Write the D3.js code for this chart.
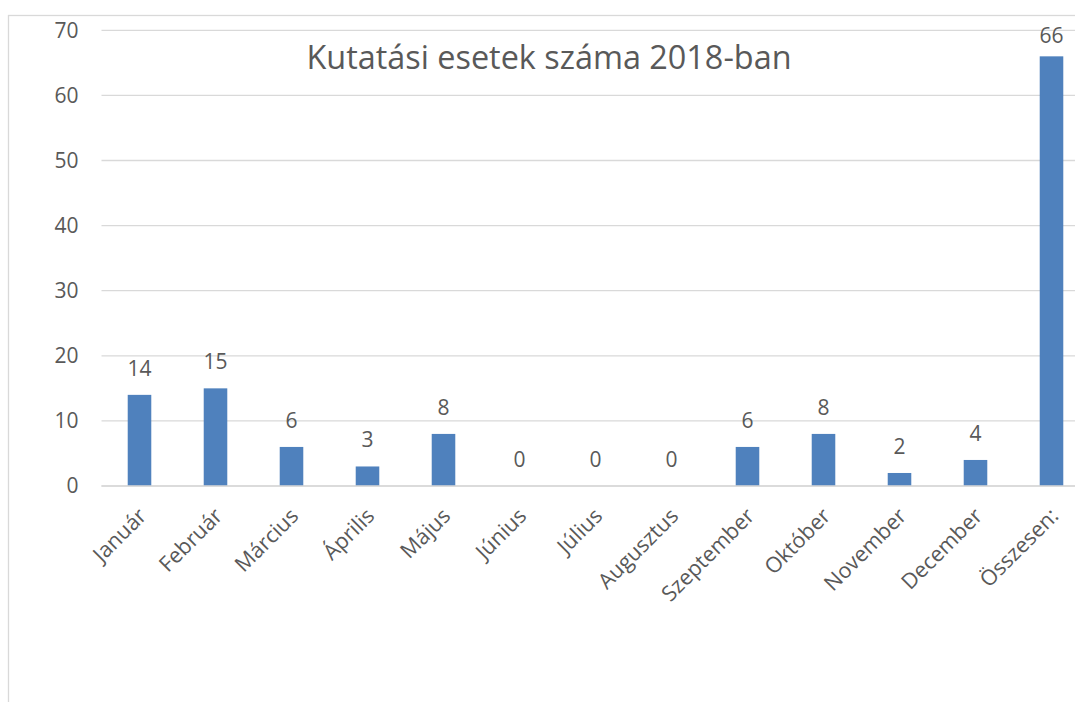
<!DOCTYPE html>
<html lang="hu">
<head>
<meta charset="utf-8">
<title>Kutatási esetek száma 2018-ban</title>
<script src="https://cdn.jsdelivr.net/npm/d3@7"></script>
<style>
  body { margin: 0; background: #fff; }
  text { font-family: "Open Sans", sans-serif; fill: #595959; }
</style>
</head>
<body>
<div id="chart"></div>
<script>
// chart data
const months = ["Január", "Február", "Március", "Április", "Május", "Június", "Július",
                "Augusztus", "Szeptember", "Október", "November", "December", "Összesen:"]
const cases = [14, 15, 6, 3, 8, 0, 0, 0, 6, 8, 2, 4, 66]
const yTicks = [0, 10, 20, 30, 40, 50, 60, 70]
const chartTitle = "Kutatási esetek száma 2018-ban"

let width = 1075
let height = 702
let plotLeft = 101.5
let band = 76
let plotTop = 30.3
let plotBottom = 486

let svg = d3.select("#chart").append("svg").attr("width", width).attr("height", height)

// chart area border
svg.append("rect")
   .attr("x", 8.5).attr("y", 15.5)
   .attr("width", 1200).attr("height", 800)
   .attr("fill", "none").attr("stroke", "#d9d9d9").attr("stroke-width", 1.3)

let xScale = d3.scaleBand().domain(months)
               .range([plotLeft, plotLeft + band * months.length])
               .paddingInner(0.69).paddingOuter(0.345)

let yScale = d3.scaleLinear().domain([0, 70]).range([plotBottom, plotTop])

// gridlines
svg.append("g")
   .selectAll("line")
   .data(yTicks)
   .enter()
   .append("line")
    .attr("x1", plotLeft).attr("x2", width + 20)
    .attr("y1", (d) => yScale(d)).attr("y2", (d) => yScale(d))
    .attr("stroke", "#d9d9d9").attr("stroke-width", 1.3)

let yAxis = d3.axisLeft(yScale).tickValues(yTicks).tickSize(0).tickPadding(23)
let yG = svg.append("g").attr("transform", "translate(" + plotLeft + ",0)").call(yAxis)
yG.select(".domain").remove()
yG.selectAll("text").style("font-size", "21px").attr("fill", "#595959").style("font-family", "Open Sans, sans-serif")

svg.append("g")
   .selectAll("rect")
   .data(cases)
   .enter()
   .append("rect")
    .attr("x", (d, i) => xScale(months[i]))
    .attr("y", (d) => yScale(d))
    .attr("width", xScale.bandwidth())
    .attr("height", (d) => plotBottom - yScale(d))
    .attr("fill", "#4f81bd")

// data labels (kept inside the plot area like excel does)
svg.append("g")
   .selectAll("text")
   .data(cases)
   .enter()
   .append("text")
    .attr("x", (d, i) => xScale(months[i]) + xScale.bandwidth() / 2)
    .attr("y", (d) => Math.max(yScale(d) - 19, plotTop + 12.5))
    .attr("text-anchor", "middle")
    .style("font-size", "21px")
    .text((d) => d)

// category labels
let xAxis = d3.axisBottom(xScale).tickSize(0).tickPadding(0)
let xG = svg.append("g").attr("transform", "translate(0," + plotBottom + ")").call(xAxis)
xG.select(".domain").remove()
xG.selectAll("text")
  .style("font-size", "21.5px").style("font-family", "Open Sans, sans-serif").attr("fill", "#595959")
  .attr("text-anchor", "end")
  .attr("dy", "0.35em")
  .attr("transform", "translate(3,26) rotate(-45)")

svg.append("line")
   .attr("x1", plotLeft).attr("x2", width + 20)
   .attr("y1", plotBottom).attr("y2", plotBottom)
   .attr("stroke", "#d9d9d9").attr("stroke-width", 1.3)

svg.append("text")
   .attr("x", 549).attr("y", 69)
   .attr("text-anchor", "middle")
   .style("font-size", "32.4px")
   .text(chartTitle)
</script>
</body>
</html>
